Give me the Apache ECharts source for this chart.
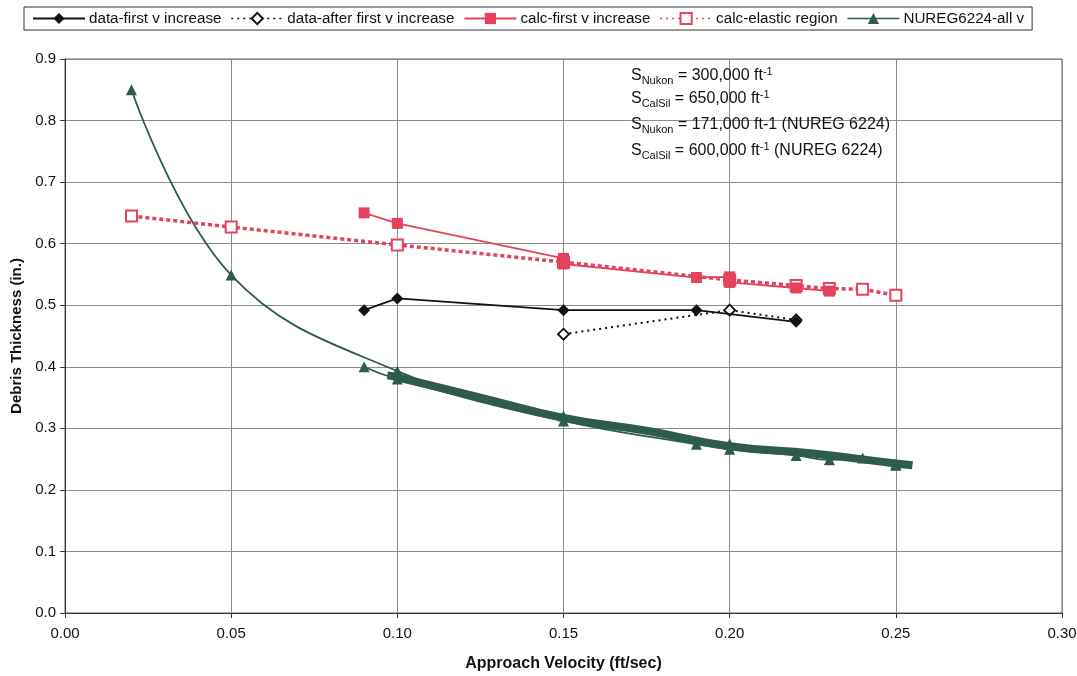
<!DOCTYPE html>
<html>
<head>
<meta charset="utf-8">
<script src="https://cdn.jsdelivr.net/npm/echarts@6/dist/echarts.min.js"></script>
<style>
html,body{margin:0;padding:0;background:#fff;}
#chart{width:1077px;height:676px;}
</style>
</head>
<body>
<div id="chart"></div>
<script>
// ---- data ----
const dataFirstX = [0.09, 0.10, 0.15, 0.19, 0.22];
const dataFirstY = [0.492, 0.511, 0.492, 0.492, 0.473];

const dataAfterX = [0.15, 0.20, 0.22];
const dataAfterY = [0.453, 0.492, 0.476];

const calcFirstX = [0.09, 0.10, 0.15, 0.15, 0.19, 0.20, 0.20, 0.22, 0.23];
const calcFirstY = [0.650, 0.633, 0.576, 0.567, 0.545, 0.546, 0.537, 0.528, 0.523];

const calcElasticX = [0.02, 0.05, 0.10, 0.15, 0.20, 0.22, 0.23, 0.24, 0.25];
const calcElasticY = [0.645, 0.627, 0.598, 0.570, 0.541, 0.532, 0.527, 0.526, 0.516];

const nuregCurveX = [0.02, 0.05, 0.10, 0.15, 0.20, 0.25];
const nuregCurveY = [0.850, 0.549, 0.393, 0.320, 0.275, 0.242];

const nuregSetX = [0.09, 0.10, 0.15, 0.19, 0.20, 0.22, 0.23, 0.24, 0.25];
const nuregSetY = [0.400, 0.380, 0.312, 0.274, 0.266, 0.256, 0.249, 0.252, 0.240];

const nuregBandX = [0.097, 0.10, 0.125, 0.15, 0.175, 0.20, 0.225, 0.25, 0.255];
const nuregBandY = [0.386, 0.383, 0.350, 0.317, 0.296, 0.271, 0.259, 0.243, 0.240];

const xTicks = {min: 0, max: 0.30, step: 0.05};
const yTicks = {min: 0, max: 0.9, step: 0.1};

const seriesNames = ['data-first v increase', 'data-after first v increase', 'calc-first v increase', 'calc-elastic region', 'NUREG6224-all v'];
const annotations = [
  ['S', 'Nukon', ' = 300,000 ft', '-1', ''],
  ['S', 'CalSil', ' = 650,000 ft', '-1', ''],
  ['S', 'Nukon', ' = 171,000 ft-1 (NUREG 6224)', '', ''],
  ['S', 'CalSil', ' = 600,000 ft', '-1', ' (NUREG 6224)']
];

const pairs = (xs, ys) => xs.map((x, i) => [x, ys[i]]);

const RED = '#e5435c';
const GREEN = '#2f5c4a';
const FONT = 'Liberation Sans, Arial, sans-serif';

const chart = echarts.init(document.getElementById('chart'), null, {renderer: 'canvas'});

const annY = [76, 99, 125, 151];
const graphics = annotations.map((a, i) => ({
  type: 'text',
  x: 631,
  y: annY[i],
  z: 100,
  style: {
    text: '{m|' + a[0] + '}{sub|' + a[1] + '}{m|' + a[2] + '}' + (a[3] ? '{sup|' + a[3] + '}' : '') + (a[4] ? '{m|' + a[4] + '}' : ''),
    verticalAlign: 'middle',
    rich: {
      m: {fontSize: 16, fontFamily: FONT, fill: '#111', lineHeight: 20, verticalAlign: 'middle'},
      sub: {fontSize: 11, fontFamily: FONT, fill: '#111', lineHeight: 20, verticalAlign: 'bottom'},
      sup: {fontSize: 11, fontFamily: FONT, fill: '#111', lineHeight: 20, verticalAlign: 'top'}
    }
  }
}));

const option = {
  backgroundColor: '#fff',
  animation: false,
  textStyle: {fontFamily: FONT},
  grid: {left: 65, right: 15, top: 59, bottom: 63, show: true, borderColor: '#666', borderWidth: 1,
         containLabel: false, outerBoundsMode: 'none'},
  legend: {
    top: 7, left: 24,
    padding: [4, 8, 4, 8],
    borderColor: '#333', borderWidth: 1,
    itemWidth: 52, itemHeight: 14, itemGap: 9,
    textStyle: {fontSize: 15.2, color: '#111', fontFamily: FONT, padding: [0, 0, 0, -1]},
    data: [
      {name: seriesNames[0]},
      {name: seriesNames[1], lineStyle: {type: [2, 4], width: 1.5}},
      {name: seriesNames[2]},
      {name: seriesNames[3], lineStyle: {type: [2, 4], width: 1.5}},
      {name: seriesNames[4], lineStyle: {width: 1.5}}
    ]
  },
  xAxis: {
    type: 'value', min: xTicks.min, max: xTicks.max, interval: xTicks.step,
    name: 'Approach Velocity (ft/sec)', nameLocation: 'middle', nameGap: 43,
    nameTextStyle: {fontSize: 16, fontWeight: 'bold', color: '#111', fontFamily: FONT},
    axisLine: {lineStyle: {color: '#333'}},
    axisTick: {show: true, length: 5, lineStyle: {color: '#333'}},
    axisLabel: {fontSize: 15, color: '#111', margin: 13, formatter: v => v.toFixed(2)},
    splitLine: {show: true, lineStyle: {color: '#8c8c8c', width: 1}}
  },
  yAxis: {
    type: 'value', min: yTicks.min, max: yTicks.max, interval: yTicks.step,
    name: 'Debris Thickness (in.)', nameLocation: 'middle', nameGap: 40,
    nameTextStyle: {fontSize: 15, fontWeight: 'bold', color: '#111', fontFamily: FONT},
    axisLine: {show: true, lineStyle: {color: '#333'}},
    axisTick: {show: true, length: 5, lineStyle: {color: '#333'}},
    axisLabel: {fontSize: 15, color: '#111', margin: 9, formatter: v => v.toFixed(1)},
    splitLine: {show: true, lineStyle: {color: '#8c8c8c', width: 1}}
  },
  graphic: graphics,
  series: [
    {
      name: seriesNames[4], type: 'line', data: pairs(nuregBandX, nuregBandY),
      smooth: true, symbol: 'triangle', showSymbol: false,
      lineStyle: {color: GREEN, width: 8}, itemStyle: {color: GREEN}, z: 2
    },
    {
      name: seriesNames[4], type: 'line', data: pairs(nuregCurveX, nuregCurveY),
      smooth: 0.4, symbol: 'triangle', symbolSize: 11,
      lineStyle: {color: GREEN, width: 1.8}, itemStyle: {color: GREEN}, z: 3
    },
    {
      name: seriesNames[4], type: 'line', data: pairs(nuregSetX, nuregSetY),
      smooth: true, symbol: 'triangle', symbolSize: 11,
      lineStyle: {color: GREEN, width: 1.8}, itemStyle: {color: GREEN}, z: 3
    },
    {
      name: seriesNames[3], type: 'line', data: pairs(calcElasticX, calcElasticY),
      symbol: 'rect', symbolSize: 11,
      lineStyle: {color: RED, width: 3.5, type: [4, 3]},
      itemStyle: {color: '#fff', borderColor: RED, borderWidth: 2}, z: 4
    },
    {
      name: seriesNames[2], type: 'line', data: pairs(calcFirstX, calcFirstY),
      symbol: 'rect', symbolSize: 11,
      lineStyle: {color: RED, width: 1.8}, itemStyle: {color: RED}, z: 5
    },
    {
      name: seriesNames[1], type: 'line', data: pairs(dataAfterX, dataAfterY),
      symbol: 'diamond', symbolSize: 11,
      lineStyle: {color: '#111', width: 2, type: [2, 4]},
      itemStyle: {color: '#fff', borderColor: '#111', borderWidth: 1.8}, z: 6
    },
    {
      name: seriesNames[0], type: 'line', data: pairs(dataFirstX, dataFirstY),
      symbol: 'diamond', symbolSize: 12,
      lineStyle: {color: '#111', width: 1.8}, itemStyle: {color: '#111'}, z: 7
    }
  ]
};
chart.setOption(option);
</script>
</body>
</html>
